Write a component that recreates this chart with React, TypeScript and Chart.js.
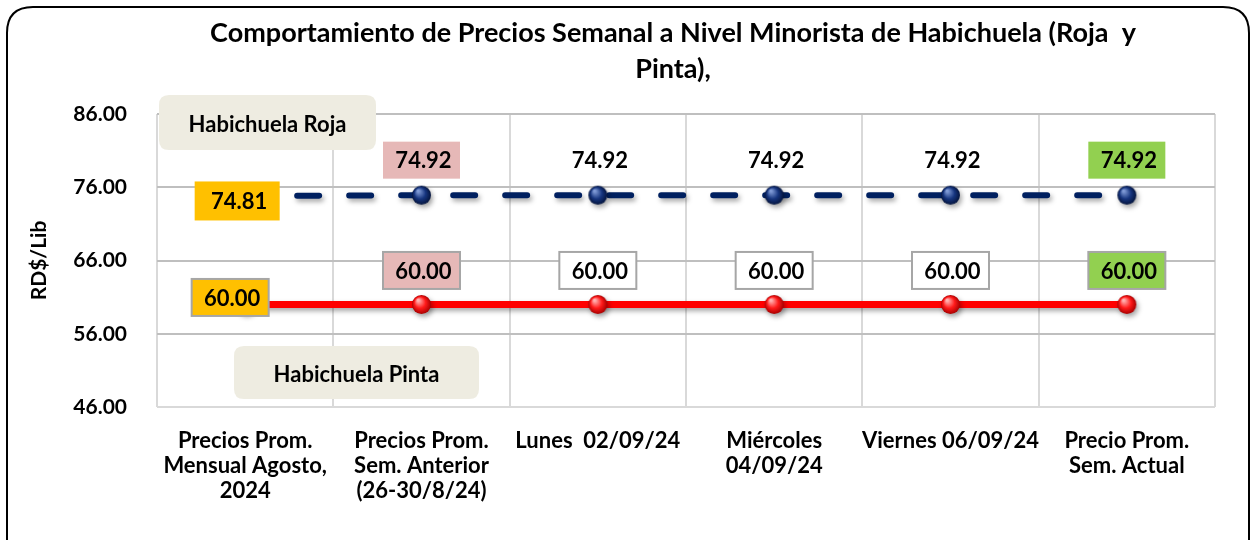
import React, { useEffect, useRef } from "react";
import { Chart, registerables } from "chart.js";

Chart.register(...registerables);

// ---------- data ----------
const categories: (string | string[])[] = [
  ["Precios Prom.", "Mensual Agosto,", "2024"],
  ["Precios Prom.", "Sem. Anterior", "(26-30/8/24)"],
  "Lunes  02/09/24",
  ["Miércoles", "04/09/24"],
  "Viernes 06/09/24",
  ["Precio Prom.", "Sem. Actual"],
];
const rojaValues = [74.81, 74.92, 74.92, 74.92, 74.92, 74.92];
const pintaValues = [60.0, 60.0, 60.0, 60.0, 60.0, 60.0];
const yTickValues = [46, 56, 66, 76, 86];
const seriesNames = ["Habichuela Roja", "Habichuela Pinta"];
const titleLines = [
  "Comportamiento de Precios Semanal a Nivel Minorista de Habichuela (Roja  y",
  "Pinta),",
];
const yAxisTitle = "RD$/Lib";

// ---------- styles ----------
const FONT = "Lato, 'Open Sans', sans-serif";
const rojaBoxFill = ["#FFC000", "#E6B8B7", null, null, null, "#92D050"];
const pintaBoxFill = ["#FFC000", "#E6B8B7", "#FFFFFF", "#FFFFFF", "#FFFFFF", "#92D050"];
const rojaLabelOffset = [[-8, 5], [0, -35], [0, -35], [0, -35], [0, -35], [0, -35]];
const pintaLabelOffset = [[-15, -7], [0, -34], [0, -34], [0, -34], [0, -34], [0, -34]];

function sphere(r: number, light: string, base: string, dark: string) {
  const c = document.createElement("canvas");
  const s = r * 2 + 2;
  c.width = s;
  c.height = s;
  const g = c.getContext("2d")!;
  const cx = s / 2;
  const grad = g.createRadialGradient(cx - r * 0.35, cx - r * 0.45, r * 0.1, cx, cx, r);
  grad.addColorStop(0, light);
  grad.addColorStop(0.55, base);
  grad.addColorStop(1, dark);
  g.fillStyle = grad;
  g.beginPath();
  g.arc(cx, cx, r, 0, Math.PI * 2);
  g.fill();
  return c;
}

function roundRect(ctx: CanvasRenderingContext2D, x: number, y: number, w: number, h: number, r: number) {
  ctx.beginPath();
  ctx.moveTo(x + r, y);
  ctx.lineTo(x + w - r, y);
  ctx.quadraticCurveTo(x + w, y, x + w, y + r);
  ctx.lineTo(x + w, y + h - r);
  ctx.quadraticCurveTo(x + w, y + h, x + w - r, y + h);
  ctx.lineTo(x + r, y + h);
  ctx.quadraticCurveTo(x, y + h, x, y + h - r);
  ctx.lineTo(x, y + r);
  ctx.quadraticCurveTo(x, y, x + r, y);
  ctx.closePath();
}

const framePlugin = {
  id: "frame",
  beforeDraw(chart: any) {
    const ctx = chart.ctx as CanvasRenderingContext2D;
    ctx.save();
    ctx.fillStyle = "#FFFFFF";
    ctx.fillRect(0, 0, chart.width, chart.height);
    ctx.lineWidth = 2;
    ctx.strokeStyle = "#000000";
    roundRect(ctx, 7, 7, 1242, 580, 26);
    ctx.stroke();
    ctx.restore();
  },
  afterDraw(chart: any) {
    const ctx = chart.ctx as CanvasRenderingContext2D;
    ctx.save();
    ctx.fillStyle = "#000";
    ctx.font = `bold 27px ${FONT}`;
    ctx.textAlign = "center";
    ctx.textBaseline = "middle";
    titleLines.forEach((t, i) => ctx.fillText(t, 673, 33 + i * 36));
    ctx.restore();
  },
};

const shadowPlugin = {
  id: "shadow",
  beforeDatasetDraw(chart: any) {
    const ctx = chart.ctx;
    ctx.save();
    ctx.shadowColor = "rgba(0,0,0,0.35)";
    ctx.shadowBlur = 5;
    ctx.shadowOffsetX = 2;
    ctx.shadowOffsetY = 3;
  },
  afterDatasetDraw(chart: any) {
    chart.ctx.restore();
  },
};

const labelPlugin = {
  id: "valueLabels",
  afterDatasetsDraw(chart: any) {
    const ctx = chart.ctx as CanvasRenderingContext2D;
    const area = chart.chartArea;
    ctx.save();
    // series name boxes
    const boxes = [
      { text: seriesNames[0], x: area.left + 2, y: area.top - 19, w: 217, h: 55 },
      { text: seriesNames[1], x: area.left + 77, y: area.top + 232, w: 245, h: 53 },
    ];
    boxes.forEach((b) => {
      ctx.fillStyle = "#EEECE1";
      roundRect(ctx, b.x, b.y, b.w, b.h, 10);
      ctx.fill();
      ctx.fillStyle = "#000";
      ctx.font = `bold 22px ${FONT}`;
      ctx.textAlign = "center";
      ctx.textBaseline = "middle";
      ctx.fillText(b.text, b.x + b.w / 2, b.y + b.h / 2 + 2);
    });

    const sets = [
      { idx: 0, fills: rojaBoxFill, offs: rojaLabelOffset, border: false },
      { idx: 1, fills: pintaBoxFill, offs: pintaLabelOffset, border: true },
    ];
    sets.forEach((s) => {
      const meta = chart.getDatasetMeta(s.idx);
      const vals = chart.data.datasets[s.idx].data as number[];
      meta.data.forEach((pt: any, i: number) => {
        const cx = pt.x + s.offs[i][0];
        const cy = pt.y + s.offs[i][1];
        const w = s.idx === 0 && i === 0 ? 85 : 77;
        const h = s.idx === 0 && i === 0 ? 39 : 37;
        const fill = s.fills[i];
        if (fill) {
          ctx.fillStyle = fill;
          ctx.fillRect(cx - w / 2, cy - h / 2, w, h);
        }
        if (s.border) {
          ctx.strokeStyle = "#A6A6A6";
          ctx.lineWidth = 2;
          ctx.strokeRect(cx - w / 2, cy - h / 2, w, h);
        }
        ctx.fillStyle = "#000";
        ctx.font = `bold 22px ${FONT}`;
        ctx.textAlign = "center";
        ctx.textBaseline = "middle";
        ctx.fillText(vals[i].toFixed(2), cx + 2, cy + 1);
      });
    });
    ctx.restore();
  },
};

export default function App() {
  const ref = useRef<HTMLCanvasElement | null>(null);

  useEffect(() => {
    if (!ref.current) return;
    const blueBall = sphere(9.5, "#7f9ad6", "#16357f", "#04143d");
    const redBall = sphere(9.5, "#ffb0b0", "#ff1a1a", "#a80000");

    const chart = new Chart(ref.current, {
      type: "line",
      data: {
        labels: categories as any,
        datasets: [
          {
            label: seriesNames[0],
            data: rojaValues,
            borderColor: "#002060",
            borderWidth: 6,
            borderDash: [22, 30],
            borderCapStyle: "round",
            pointStyle: blueBall as any,
            pointRadius: 10,
            tension: 0,
            fill: false,
          },
          {
            label: seriesNames[1],
            data: pintaValues,
            borderColor: "#FF0000",
            borderWidth: 7,
            pointStyle: redBall as any,
            pointRadius: 10,
            tension: 0,
            fill: false,
          },
        ],
      },
      options: {
        animation: false,
        responsive: false,
        events: [],
        layout: { padding: { left: 0, right: 40, top: 114, bottom: 0 } },
        plugins: {
          legend: { display: false },
          tooltip: { enabled: false },
          title: { display: false },
        },
        scales: {
          x: {
            offset: true,
            grid: { offset: true, color: "#D9D9D9", lineWidth: 2, drawTicks: false },
            border: { display: false },
            ticks: {
              color: "#000",
              font: { family: FONT, size: 22, weight: "bold", lineHeight: 25 / 22 },
              padding: 21,
              maxRotation: 0,
              autoSkip: false,
            },
            afterFit: (s: any) => {
              s.height = 133;
            },
          },
          y: {
            min: 46,
            max: 86,
            afterBuildTicks: (s: any) => {
              s.ticks = yTickValues.map((v) => ({ value: v }));
            },
            grid: {
              color: (c: any) => (c.tick && c.tick.value === 46 ? "#D9D9D9" : "#BFBFBF"),
              lineWidth: 2,
              drawTicks: false,
            },
            border: { display: false },
            ticks: {
              color: "#000",
              font: { family: FONT, size: 21, weight: "bold" },
              padding: 30,
              callback: (v: any) => Number(v).toFixed(2),
            },
            title: {
              display: true,
              text: yAxisTitle,
              color: "#000",
              font: { family: FONT, size: 21, weight: "bold", lineHeight: 1.2 },
              padding: { top: 27, bottom: 0 },
            },
            afterFit: (s: any) => {
              s.width = 157;
            },
          },
        },
      },
      plugins: [framePlugin, shadowPlugin, labelPlugin],
    });
    return () => chart.destroy();
  }, []);

  return (
    <div style={{ position: "fixed", left: 0, top: 0, width: 1255, height: 540, background: "#fff" }}>
      <canvas ref={ref} width={1255} height={540} style={{ display: "block", width: 1255, height: 540 }} />
    </div>
  );
}
